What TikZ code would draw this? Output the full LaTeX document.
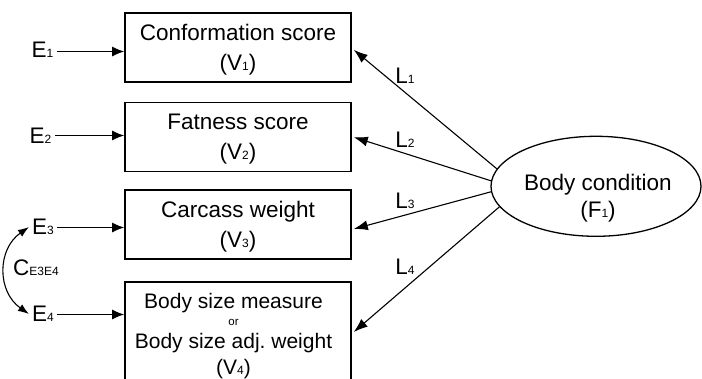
\documentclass[tikz,border=0pt]{standalone}
\usepackage{fontspec}
\setmainfont{Liberation Sans}
\usetikzlibrary{arrows.meta,shapes.geometric}
\newcommand\sbx[1]{{\fontsize{12}{12}\selectfont #1}}
\begin{document}
\begin{tikzpicture}[x=1pt,y=-1pt,
 box/.style={draw,line width=1.6pt,minimum width=226pt,minimum height=69pt,inner sep=0pt,align=center,text depth=0pt,font=\fontsize{22.5}{30}\selectfont},
 arr/.style={-{Latex[length=12pt,width=10pt]},line width=1.1pt},
 larr/.style={-{Latex[length=14pt,width=10pt]},line width=1.1pt},
 lab/.style={font=\fontsize{22.5}{22.5}\selectfont,inner ysep=0pt,inner xsep=0pt},
 elab/.style={lab,inner xsep=3pt},
]
\useasboundingbox (0,0) rectangle (702,379);
\clip (0,0) rectangle (702,379);
% boxes
\node[box] (V1) at (238,47.8) {Conformation score\\(V\sbx{1})};
\node[box] (V2) at (238,137.2) {Fatness score\\(V\sbx{2})};
\node[box] (V3) at (238,224.5) {Carcass weight\\(V\sbx{3})};
\node[box,minimum height=130pt,anchor=north] (V4) at (238,281) {};
\node[lab,align=center,anchor=north,font=\fontsize{21}{22}\selectfont] (V4t) at (233.5,293.5)
 {Body size measure\\[-5.4pt]{\fontsize{11.5}{11.5}\selectfont or}\\[1.4pt]Body size adj.\ weight\\[4pt](V\sbx{4})};
% factor
\node[draw,ellipse,line width=1.3pt,minimum width=210pt,minimum height=100pt,inner sep=0pt] (F1) at (596,186.3) {};
\node[lab,align=center,text depth=0pt,font=\fontsize{22.5}{27.3}\selectfont] (F1t) at (598,195.5) {Body condition\\(F\sbx{1})};
% errors
\node[elab] (E1) at (42.5,50) {E\sbx{1}};
\node[elab] (E2) at (40.5,135.5) {E\sbx{2}};
\node[elab] (E3) at (43,227) {E\sbx{3}};
\node[elab] (E4) at (43,314) {E\sbx{4}};
\draw[arr] ([yshift=-1.5pt]E1.east) -- ([yshift=-1.5pt]E1.east -| V1.west);
\draw[arr] (E2) -- (E2 -| V2.west);
\draw[arr] ([yshift=-0.5pt]E3.east) -- ([yshift=-0.5pt]E3.east -| V3.west);
\draw[arr] ([yshift=-0.5pt]E4.east) -- ([yshift=-0.5pt]E4.east -| V4.west);
\draw[{Latex[length=11pt,width=8pt]}-{Latex[length=11pt,width=8pt]},line width=1.1pt]
 (E3.west) to[out=215,in=145,looseness=1.15] (E4.west);
\node[lab] (C) at (36,268) {C\sbx{E3E4}};
% loadings
\draw[larr] (F1.170) -- ([xshift=2pt,yshift=-2pt]V1.east);
\draw[larr] (F1.177) -- ([xshift=2pt]V2.east);
\draw[larr] (F1.183) -- ([xshift=2pt,yshift=-4.5pt]V3.east);
\draw[larr] (F1.192) -- ([xshift=2pt,yshift=-51pt]V4.north east);
\node[lab] (L1) at (405,76) {L\sbx{1}};
\node[lab] (L2) at (405,140) {L\sbx{2}};
\node[lab] (L3) at (405,201) {L\sbx{3}};
\node[lab] (L4) at (405,267) {L\sbx{4}};
\end{tikzpicture}
\end{document}
